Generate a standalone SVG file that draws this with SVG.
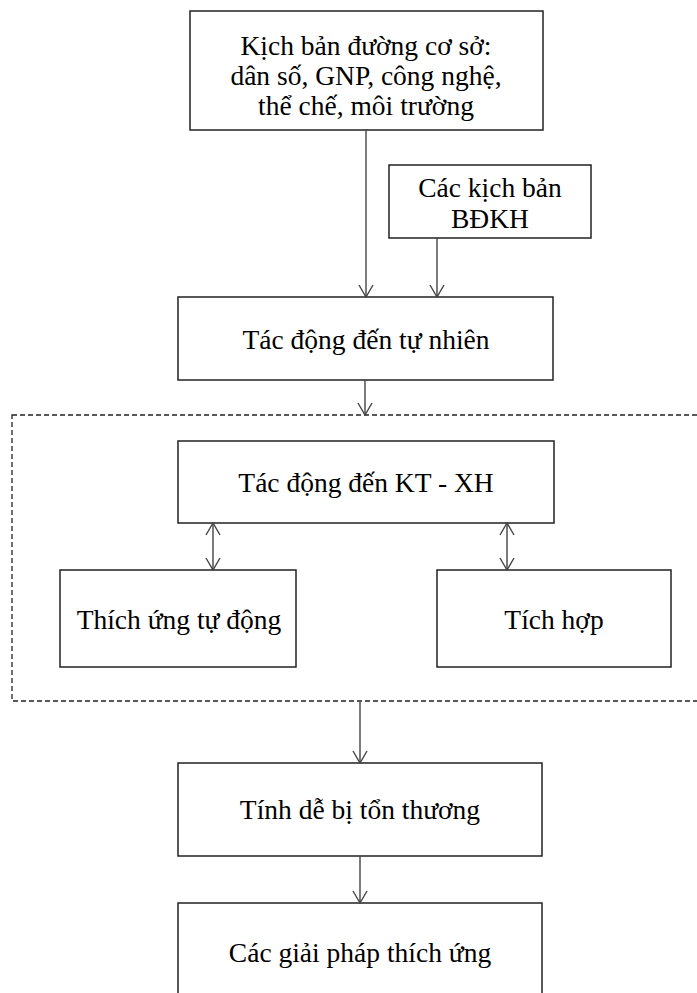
<svg xmlns="http://www.w3.org/2000/svg" width="697" height="993" viewBox="0 0 697 993">
  <style>
    .box { fill: #ffffff; stroke: #222222; stroke-width: 1.5; }
    .frame { fill: none; stroke: #222222; stroke-width: 1.3; stroke-dasharray: 5 3; }
    .lbl { font-family: "Liberation Serif", "Times New Roman", serif; font-size: 27.5px; fill: #000000; text-anchor: middle; }
    .link { stroke: #444444; stroke-width: 1.4; fill: none; }
  </style>
  <defs>
    <!-- open V arrowhead, tip on the line end -->
    <marker id="vhead" viewBox="0 0 14 16" refX="13" refY="8" markerWidth="14" markerHeight="16" markerUnits="userSpaceOnUse" orient="auto-start-reverse">
      <path d="M1,1 L13,8 L1,15" fill="none" stroke="#444444" stroke-width="1.4"/>
    </marker>
  </defs>

  <rect id="dashed-group" class="frame" x="12" y="415" width="700" height="286"/>

  <g id="baseline">
    <rect class="box" x="190" y="11" width="353" height="119"/>
    <text class="lbl" x="366" y="55">Kịch bản đường cơ sở:</text>
    <text class="lbl" x="366" y="85">dân số, GNP, công nghệ,</text>
    <text class="lbl" x="366" y="115">thể chế, môi trường</text>
  </g>

  <g id="climate">
    <rect class="box" x="389" y="165" width="202" height="73"/>
    <text class="lbl" x="490" y="197">Các kịch bản</text>
    <text class="lbl" x="490" y="228">BĐKH</text>
  </g>

  <g id="nature">
    <rect class="box" x="178" y="297" width="375" height="83"/>
    <text class="lbl" x="366" y="349">Tác động đến tự nhiên</text>
  </g>

  <g id="socio">
    <rect class="box" x="178" y="441" width="376" height="82"/>
    <text class="lbl" x="366" y="492">Tác động đến KT - XH</text>
  </g>

  <g id="autonomous">
    <rect class="box" x="60" y="570" width="236" height="97"/>
    <text class="lbl" x="179" y="629">Thích ứng tự động</text>
  </g>

  <g id="integrated">
    <rect class="box" x="437" y="570" width="234" height="97"/>
    <text class="lbl" x="554" y="629">Tích hợp</text>
  </g>

  <g id="vulnerability">
    <rect class="box" x="178" y="763" width="364" height="93"/>
    <text class="lbl" x="360" y="819">Tính dễ bị tổn thương</text>
  </g>

  <g id="solutions">
    <rect class="box" x="178" y="903" width="364" height="100"/>
    <text class="lbl" x="360" y="962">Các giải pháp thích ứng</text>
  </g>

  <g id="connectors">
    <line class="link" x1="366" y1="130" x2="366" y2="297" marker-end="url(#vhead)"/>
    <line class="link" x1="437" y1="238" x2="437" y2="297" marker-end="url(#vhead)"/>
    <line class="link" x1="365" y1="380" x2="365" y2="415" marker-end="url(#vhead)"/>
    <line class="link" x1="213" y1="523" x2="213" y2="570" marker-start="url(#vhead)" marker-end="url(#vhead)"/>
    <line class="link" x1="507" y1="523" x2="507" y2="570" marker-start="url(#vhead)" marker-end="url(#vhead)"/>
    <line class="link" x1="360" y1="701" x2="360" y2="763" marker-end="url(#vhead)"/>
    <line class="link" x1="360" y1="856" x2="360" y2="903" marker-end="url(#vhead)"/>
  </g>
</svg>
